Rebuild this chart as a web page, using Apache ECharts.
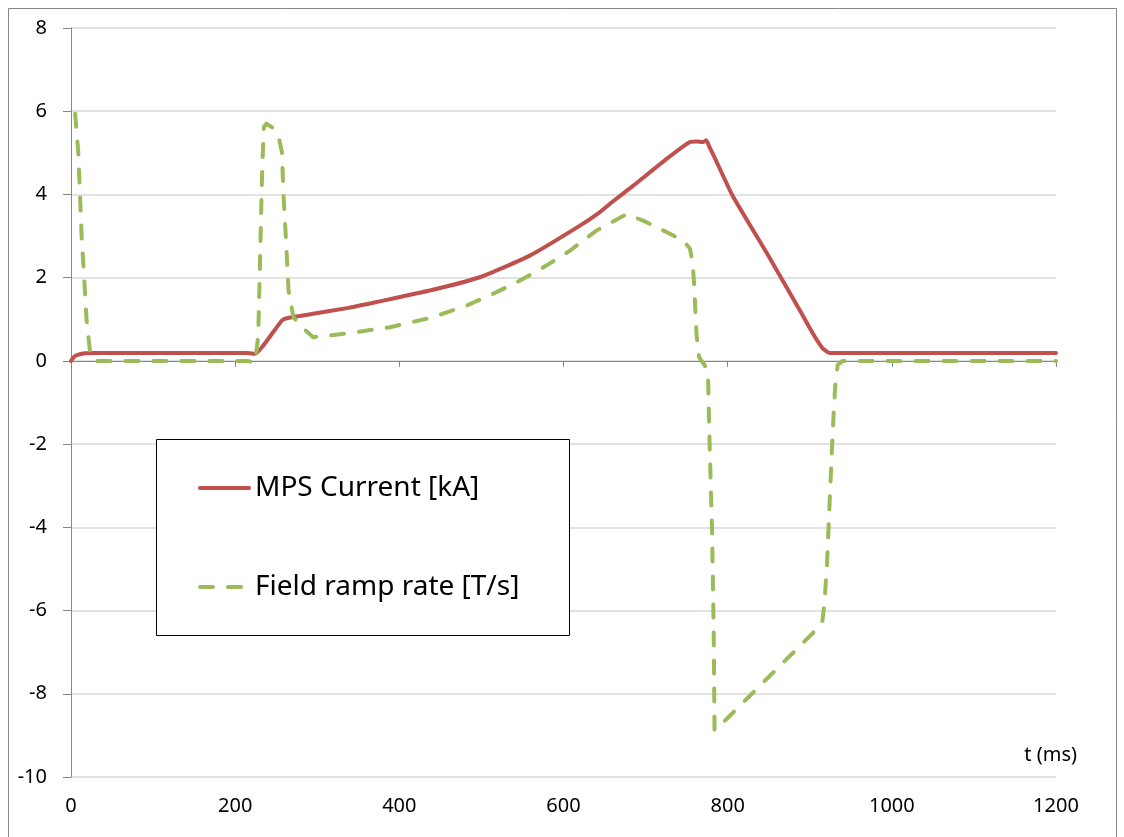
<!DOCTYPE html>
<html>
<head>
<meta charset="utf-8">
<script src="https://cdn.jsdelivr.net/npm/echarts@6/dist/echarts.min.js"></script>
<style>
html,body{margin:0;padding:0;background:#fff;}
#chart{width:1124px;height:837px;}
</style>
</head>
<body>
<div id="chart"></div>
<script>
// ---- data ----
const seriesNames = ['MPS Current [kA]', 'Field ramp rate [T/s]'];
const xTicks = [0, 200, 400, 600, 800, 1000, 1200];
const yTicks = [-10, -8, -6, -4, -2, 0, 2, 4, 6, 8];

const mpsT = [0, 5, 15, 30, 100, 215, 224, 258, 279, 340, 376, 437, 498, 559, 620, 644, 660, 685, 726, 754, 762, 770, 774, 778, 784, 806, 848, 888, 904, 915, 924, 940, 1200];
const mpsI = [0, 0.12, 0.18, 0.19, 0.19, 0.19, 0.17, 0.99, 1.08, 1.28, 1.43, 1.69, 2.01, 2.53, 3.25, 3.57, 3.83, 4.21, 4.86, 5.26, 5.27, 5.26, 5.3, 5.13, 4.89, 3.97, 2.58, 1.21, 0.65, 0.32, 0.19, 0.19, 0.19];

const rampT = [5, 9, 11, 13, 16, 19, 24, 30, 215, 221, 224, 228, 230, 231.5, 233, 235, 238, 246, 253, 257, 259, 262, 265, 271, 283, 295, 336, 389, 441, 482, 514, 547, 579, 608, 640, 677, 697, 726, 746, 754, 757, 759, 762, 765, 768, 772, 776, 778, 781, 783, 784, 786, 799, 915, 918, 921, 924, 928, 931, 934, 940, 1200];
const rampR = [5.94, 4.98, 3.97, 2.97, 2.0, 0.97, 0.09, 0, 0, -0.03, -0.05, 0.57, 2.1, 3.45, 4.65, 5.62, 5.7, 5.6, 5.38, 5.01, 3.93, 2.89, 1.69, 1.05, 0.78, 0.57, 0.66, 0.81, 1.05, 1.33, 1.61, 1.93, 2.29, 2.65, 3.13, 3.53, 3.37, 3.09, 2.89, 2.7, 2.4, 1.9, 0.65, 0.1, 0, -0.1, -0.3, -2.0, -4.08, -6.5, -8.88, -8.92, -8.6, -6.32, -5.8, -4.88, -3.5, -1.68, -0.6, -0.1, 0, 0];

const zip = (a, b) => a.map((v, i) => [v, b[i]]);

const FONT = 'Noto Sans';
const chart = echarts.init(document.getElementById('chart'), null, {renderer: 'canvas'});

const option = {
  animation: false,
  backgroundColor: '#ffffff',
  textStyle: {fontFamily: FONT},
  grid: {left: 71, top: 28, right: 68, bottom: 60, containLabel: false},
  xAxis: [
    {
      type: 'value', min: xTicks[0], max: xTicks[xTicks.length - 1], interval: 200,
      position: 'bottom',
      axisLine: {show: false, onZero: false},
      axisTick: {show: false},
      splitLine: {show: false},
      axisLabel: {fontSize: 20, color: '#000', margin: 19, fontFamily: FONT, formatter: v => String(v)}
    },
    {
      type: 'value', min: xTicks[0], max: xTicks[xTicks.length - 1], interval: 200,
      position: 'bottom',
      axisLine: {show: true, onZero: true, lineStyle: {color: '#868686', width: 1}},
      axisTick: {show: true, inside: false, length: 6, lineStyle: {color: '#868686'}},
      splitLine: {show: false},
      axisLabel: {show: false}
    }
  ],
  yAxis: {
    type: 'value', min: yTicks[0], max: yTicks[yTicks.length - 1], interval: 2,
    axisLine: {show: true, lineStyle: {color: '#868686', width: 1}},
    axisTick: {show: true, inside: false, length: 8, lineStyle: {color: '#868686'}},
    splitLine: {show: true, lineStyle: {color: '#D9D9D9', width: 1.5}},
    axisLabel: {fontSize: 20, color: '#000', margin: 24, fontFamily: FONT, formatter: v => String(v)}
  },
  legend: {
    orient: 'vertical',
    left: 198, top: 473,
    padding: 0,
    z: 20,
    itemWidth: 49, itemHeight: 12,
    itemGap: 69,
    itemStyle: {opacity: 0, color: 'transparent', borderWidth: 0},
    lineStyle: {width: 4, cap: 'round'},
    textStyle: {fontSize: 28, color: '#000', fontFamily: FONT, lineHeight: 30, padding: [0, 0, 0, 1]},
    data: seriesNames
  },
  graphic: [
    {
      type: 'rect', z: 0, silent: true,
      shape: {x: 8.5, y: 8.5, width: 1108, height: 845},
      style: {fill: 'none', stroke: '#868686', lineWidth: 1}
    },
    {
      type: 'rect', z: 6, silent: true,
      shape: {x: 156.5, y: 439.5, width: 413, height: 196},
      style: {fill: '#ffffff', stroke: '#000000', lineWidth: 1}
    },
    {
      type: 'text', z: 5, silent: true,
      x: 1077, y: 755,
      style: {text: 't (ms)', fontSize: 20, fontFamily: FONT, fill: '#000', align: 'right', verticalAlign: 'middle'}
    }
  ],
  series: [
    {
      name: seriesNames[0], type: 'line', xAxisIndex: 0,
      data: zip(mpsT, mpsI),
      symbol: 'none', smooth: 0.15,
      lineStyle: {color: '#C0504D', width: 4, cap: 'round', join: 'round'},
      itemStyle: {color: '#C0504D'},
      z: 3
    },
    {
      name: seriesNames[1], type: 'line', xAxisIndex: 0,
      data: zip(rampT, rampR),
      symbol: 'none', smooth: false,
      lineStyle: {color: '#9BBB59', width: 4, type: [13, 15], cap: 'round', join: 'round'},
      itemStyle: {color: '#9BBB59'},
      z: 4
    }
  ]
};
chart.setOption(option);
</script>
</body>
</html>
